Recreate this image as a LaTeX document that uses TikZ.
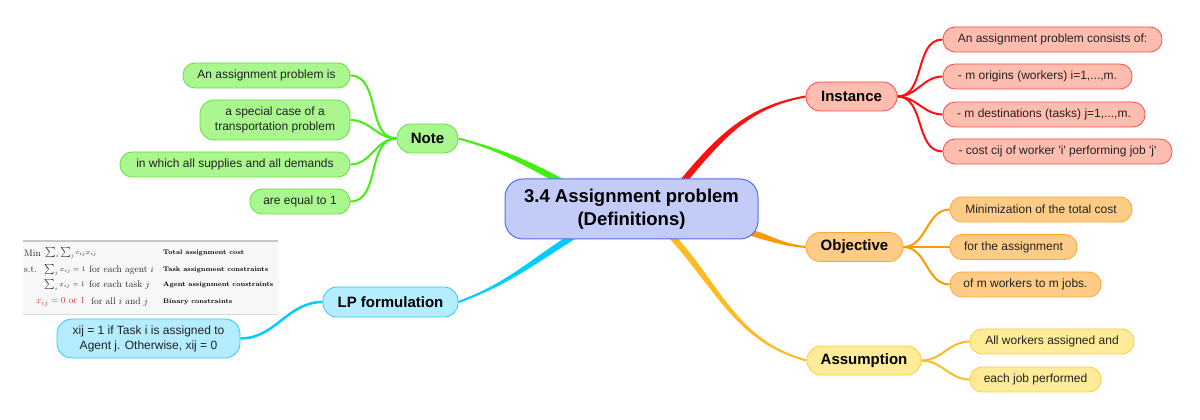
\documentclass[tikz,border=0pt]{standalone}
\usepackage{fontspec}
\newfontfamily\sans{Liberation Sans}
\usetikzlibrary{calc,backgrounds}
\definecolor{cenF}{HTML}{C3CCF9}
\definecolor{cenD}{HTML}{4F6FEF}
\definecolor{insF}{HTML}{FFBDB0}
\definecolor{insD}{HTML}{FF4A4A}
\definecolor{insL}{HTML}{FF1010}
\definecolor{notF}{HTML}{A9F78E}
\definecolor{notD}{HTML}{66E040}
\definecolor{notL}{HTML}{44EE11}
\definecolor{objF}{HTML}{FFCC88}
\definecolor{objD}{HTML}{FFA530}
\definecolor{objL}{HTML}{FF9900}
\definecolor{asmF}{HTML}{FFEC99}
\definecolor{asmD}{HTML}{FFCC40}
\definecolor{asmL}{HTML}{FFBB22}
\definecolor{lpF}{HTML}{B3EDFF}
\definecolor{lpD}{HTML}{30C8FF}
\definecolor{lpL}{HTML}{00CCFF}
\definecolor{tabred}{HTML}{CC3333}
\definecolor{txt}{HTML}{222222}
\newcommand\taperlink[5]{%
  \fill[#5] ($(#1)+(#3+90:3.2)$) to[out=#3,in=#4] ($(#2)+(#4-90:1)$)
    -- ($(#2)+(#4+90:1)$) to[out=#4,in=#3] ($(#1)+(#3-90:3.2)$) -- cycle;}
\tikzset{
  base/.style={draw, line width=0.8pt, inner sep=0pt, align=center,
    font=\sans\fontsize{12}{15}\selectfont, text=txt},
  leaf/.style={base, minimum height=25pt, rounded corners=12pt},
  branch/.style={base, minimum height=29pt, rounded corners=14pt,
    font=\sans\bfseries\fontsize{15}{18}\selectfont, text=black},
  sub/.style={line width=2pt},
  tab/.style={anchor=west, inner sep=0pt, font=\fontsize{9.5}{11}\selectfont, text=black!85},
  tabm/.style={anchor=west, inner sep=0pt, font=\fontsize{7.5}{9}\selectfont, text=black!85},
  tabb/.style={anchor=west, inner sep=0pt, font=\fontsize{6.6}{8}\selectfont\bfseries},
}
\begin{document}
\begin{tikzpicture}[x=1pt,y=1pt]
\useasboundingbox (0,0) rectangle (1200,420);
% central
\node[base, fill=cenF, draw=cenD, line width=1pt, rounded corners=18pt,
  minimum width=253pt, minimum height=60pt, text=black,
  font=\sans\bfseries\fontsize{18.5}{23}\selectfont] (c) at (631.5,211)
  {3.4 Assignment problem\\(Definitions)};
% branches
\node[branch, fill=insF, draw=insD, minimum width=91pt] (ins) at (851.5,323.5) {Instance};
\node[branch, fill=notF, draw=notD, minimum width=61pt] (note) at (427.5,281.5) {Note};
\node[branch, fill=objF, draw=objD, minimum width=97pt] (obj) at (854.5,173) {Objective};
\node[branch, fill=asmF, draw=asmD, minimum width=114pt] (asm) at (864,59.5) {Assumption};
\node[branch, fill=lpF, draw=lpD, minimum width=135pt, minimum height=30pt] (lp) at (390.5,118) {LP formulation};
% instance leaves
\node[leaf, fill=insF, draw=insD, minimum width=219pt] (i1) at (1052.5,380.5) {An assignment problem consists of:};
\node[leaf, fill=insF, draw=insD, minimum width=189pt] (i2) at (1037.5,343.5) {- m origins (workers) i=1,...,m.};
\node[leaf, fill=insF, draw=insD, minimum width=202pt] (i3) at (1044,305.5) {- m destinations (tasks) j=1,...,m.};
\node[leaf, fill=insF, draw=insD, minimum width=229pt] (i4) at (1057.5,268.5) {- cost cij of worker \textquotesingle i\textquotesingle\ performing job \textquotesingle j\textquotesingle};
% note leaves
\node[leaf, fill=notF, draw=notD, minimum width=167pt] (n1) at (266.5,344.5) {An assignment problem is};
\node[leaf, fill=notF, draw=notD, minimum width=150pt, minimum height=40pt, rounded corners=14pt] (n2) at (275,300) {a special case of a\\transportation problem};
\node[leaf, fill=notF, draw=notD, minimum width=230pt] (n3) at (235,255.5) {in which all supplies and all demands};
\node[leaf, fill=notF, draw=notD, minimum width=100pt] (n4) at (300,218.5) {are equal to 1};
% objective leaves
\node[leaf, fill=objF, draw=objD, minimum width=182pt] (o1) at (1041,210.5) {Minimization of the total cost};
\node[leaf, fill=objF, draw=objD, minimum width=127pt] (o2) at (1013.5,173) {for the assignment};
\node[leaf, fill=objF, draw=objD, minimum width=151pt] (o3) at (1025.5,135.5) {of m workers to m jobs.};
% assumption leaves
\node[leaf, fill=asmF, draw=asmD, minimum width=164pt] (a1) at (1052,78.5) {All workers assigned and};
\node[leaf, fill=asmF, draw=asmD, minimum width=131pt] (a2) at (1035.5,40.5) {each job performed};
% lp leaf
\node[leaf, fill=lpF, draw=lpD, minimum width=183pt, minimum height=39pt, rounded corners=15pt] (lp1) at (148.5,81.5) {xij = 1 if Task i is assigned to\\Agent j. Otherwise, xij = 0};
% LP table (image)
\fill[black!3] (23,179) rectangle (278,105);
\draw[black!22, line width=1.5pt] (23,179) coordinate (tl) -- (278,179) coordinate (tr);
\draw[black!15, line width=1pt] (23,105) coordinate (bl) -- (278,105) coordinate (br);
\node[tab] (r1a) at (24,167) {Min};
\node[tabm] (r1b) at (45,167) {$\sum_i\sum_j c_{ij}x_{ij}$};
\node[tabb] (r1c) at (163,167) {Total assignment cost};
\node[tab] (r2a) at (24,150) {s.t.};
\node[tabm] (r2b) at (44,150) {$\sum_j x_{ij}=1$};
\node[tab] (r2c) at (89,150) {for each agent $i$};
\node[tabb] (r2d) at (163,150) {Task assignment constraints};
\node[tabm] (r3b) at (44,135) {$\sum_i x_{ij}=1$};
\node[tab] (r3c) at (89,135) {for each task $j$};
\node[tabb] (r3d) at (163,135) {Agent assignment constraints};
\node[tab, text=tabred] (r4b) at (36,118) {$x_{ij}=0$ or 1};
\node[tab] (r4c) at (91,118) {for all $i$ and $j$};
\node[tabb] (r4d) at (163,118) {Binary constraints};
% connectors
\begin{pgfonlayer}{background}
\coordinate (sR) at ($(c.north)+(51.5,-3)$);
\coordinate (sG) at ($(c.north)+(-70.5,-3)$);
\coordinate (sB) at ($(c.south)+(-58.5,3)$);
\coordinate (sY) at ($(c.south)+(40.5,3)$);
\coordinate (sO) at ($(c.south east)+(-12,8)$);
\taperlink{sR}{ins.west}{50}{190}{insL}
\taperlink{sG}{note.east}{152}{-15}{notL}
\taperlink{sB}{lp.east}{212}{20}{lpL}
\taperlink{sY}{asm.west}{-48}{165}{asmL}
\taperlink{sO}{obj.west}{-15}{175}{objL}
\foreach \k in {i1,i2,i3,i4}
  \draw[sub, insL] (ins.east) to[out=0,in=180] (\k.west);
\foreach \k in {n1,n2,n3,n4}
  \draw[sub, notL] (note.west) to[out=180,in=0] (\k.east);
\foreach \k in {o1,o2,o3}
  \draw[sub, objL] (obj.east) to[out=0,in=180] (\k.west);
\foreach \k in {a1,a2}
  \draw[sub, asmL] (asm.east) to[out=0,in=180] (\k.west);
\draw[sub, lpL, line width=2.5pt] (lp.west) to[out=180,in=0] (lp1.east);
\end{pgfonlayer}
\end{tikzpicture}
\end{document}
